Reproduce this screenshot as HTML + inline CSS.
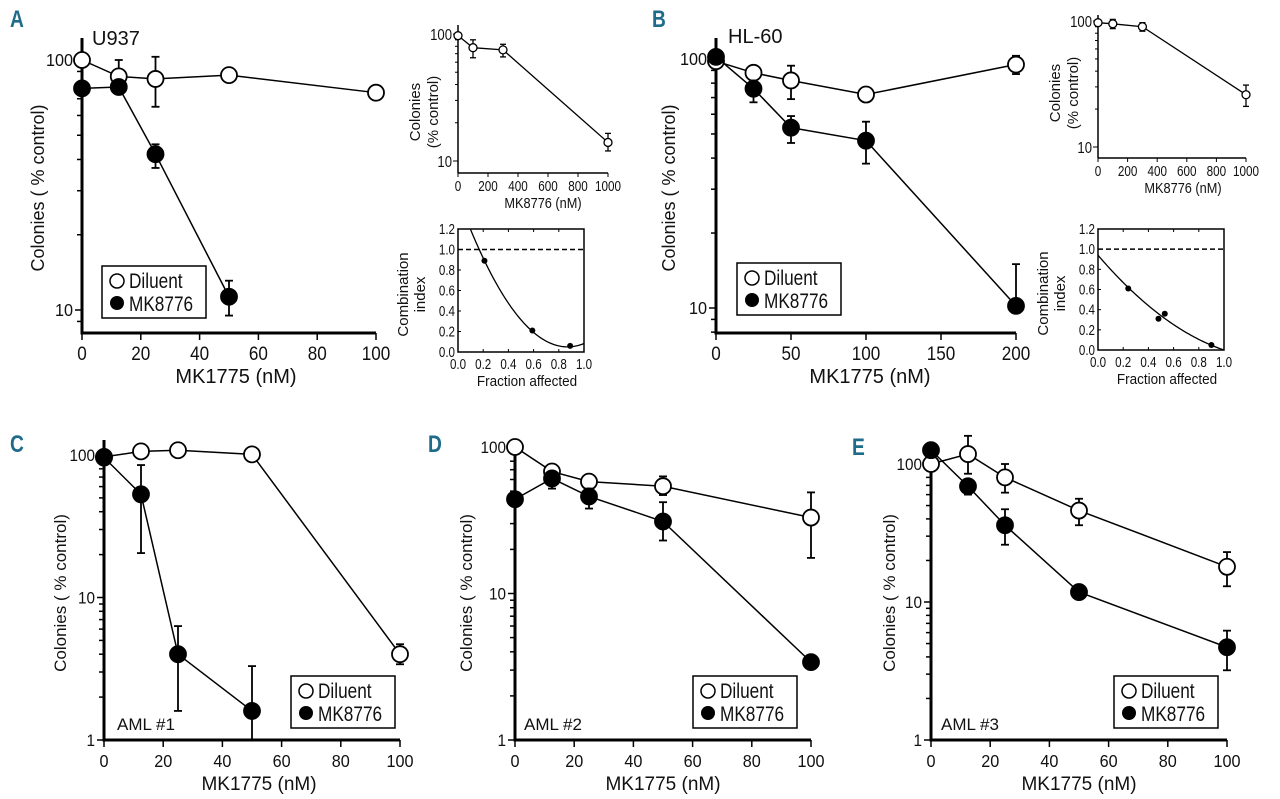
<!DOCTYPE html>
<html><head><meta charset="utf-8"><style>
html,body{margin:0;padding:0;background:#fff;width:1280px;height:799px;overflow:hidden}
svg{display:block}
text{font-family:"Liberation Sans Narrow","Liberation Sans",sans-serif;fill:#111}
.pl{font-family:"Liberation Sans",sans-serif;font-weight:bold;fill:#1f6b8a;font-size:24px}
</style></head><body>
<svg id="fig" width="1280" height="799" viewBox="0 0 1280 799" xmlns="http://www.w3.org/2000/svg">
<text class="pl" transform="translate(10,27) scale(0.8,1)">A</text>
<text class="pl" transform="translate(652,27) scale(0.8,1)">B</text>
<text class="pl" transform="translate(10,452) scale(0.8,1)">C</text>
<text class="pl" transform="translate(428,452) scale(0.8,1)">D</text>
<text class="pl" transform="translate(852,455) scale(0.8,1)">E</text>
</svg>
<script>
// ---- data ----
const aX=[0,12.5,25,50,100];
const aDil=[100,86,84,87,74];
const aDilHi=[null,100,103,null,null];
const aDilLo=[null,null,65,null,null];
const aMK=[77,78,42,11.3];
const aMKHi=[null,81,46,13.1];
const aMKLo=[null,74,37,9.5];
const bX=[0,25,50,100,200];
const bDil=[98,88,82,72,95];
const bDilHi=[null,93,94,null,103];
const bDilLo=[null,null,69,null,87];
const bMK=[102,76,53,47,10.2];
const bMKHi=[null,82,59,56,15];
const bMKLo=[null,67,46,38,null];
const cX=[0,12.5,25,50,100];
const cDil=[97,106,108,101,4.0];
const cDilHi=[null,null,null,null,4.7];
const cDilLo=[null,null,null,null,3.4];
const cMK=[96,53,4,1.6];
const cMKHi=[null,85,6.3,3.3];
const cMKLo=[null,20.5,1.6,1];
const dX=[0,12.5,25,50,100];
const dDil=[100,68,58,54,33];
const dDilHi=[null,null,null,63,49];
const dDilLo=[null,null,null,47,17.5];
const dMK=[44,61,46,31,3.4];
const dMKHi=[null,65,52,42,null];
const dMKLo=[null,52,38,23,null];
const eX=[0,12.5,25,50,100];
const eDil=[100,118,80,46,18];
const eDilHi=[null,160,100,56,23];
const eDilLo=[null,85,62,36,13];
const eMK=[126,69,36,11.8,4.7];
const eMKHi=[null,77,47,null,6.2];
const eMKLo=[null,60,26,null,3.2];
// insets
const aInX=[0,100,300,1000];
const aInY=[97,78,75,14];
const aInHi=[null,90,83,16.5];
const aInLo=[null,65,66,12];
const bInX=[0,100,300,1000];
const bInY=[97,95,90,26];
const bInHi=[null,103,97,31];
const bInLo=[null,87,83,21];
const aFa=[0.21,0.59,0.89];
const aCI=[0.89,0.21,0.06];
const bFa=[0.24,0.48,0.53,0.9];
const bCI=[0.61,0.31,0.36,0.05];
const aCurve=[1.93,0.87,0.05]; // a*(f-b)^2+c
const bCurve=[0.94,-1.458,0.518]; // c0+c1 f+c2 f^2

const NS="http://www.w3.org/2000/svg";
const svg=document.getElementById('fig');
function el(tag,attrs,parent,txt){
  const e=document.createElementNS(NS,tag);
  if(tag==='text'){
    const sx=attrs._sx||1;delete attrs._sx;
    if(attrs.transform){attrs.transform=attrs.transform+` scale(${sx},1)`;}
    else{attrs.transform=`translate(${attrs.x},${attrs.y}) scale(${sx},1)`;attrs.x=0;attrs.y=0;}
  }
  for(const k in attrs)e.setAttribute(k,attrs[k]);if(txt!==undefined)e.textContent=txt;(parent||svg).appendChild(e);return e;}
function grp(name){const g=el('g',{});return g;}

function mainPanel(id,cfg,xs,dil,dHi,dLo,mk,mHi,mLo){
  const g=grp('panel-'+id);
  const X=v=>cfg.x0+v*cfg.sx;
  const Y=v=>cfg.y100+(2-Math.log10(v))*cfg.dec;
  const xr=X(cfg.xMax);
  const ya=el('line',{x1:cfg.x0,y1:cfg.yTop,x2:cfg.x0,y2:cfg.yBot,stroke:'#000','stroke-width':3},g);
  
  const xa=el('line',{x1:cfg.x0-1.5,y1:cfg.yBot,x2:xr,y2:cfg.yBot,stroke:'#000','stroke-width':3},g);
  
  for(let d=0;d<=2;d++){for(let m=1;m<=9;m++){const v=Math.pow(10,d)*m;const y=Y(v);if(y<cfg.yTop-1||y>cfg.yBot+1)continue;
    el('line',{x1:cfg.x0-(m==1?7:5),y1:y,x2:cfg.x0,y2:y,stroke:'#000','stroke-width':1.5},g);
    if(m==1){const t=el('text',{x:cfg.x0-9,y:y+6,'text-anchor':'end','font-size':cfg.fs+1,_sx:0.9},g,String(v));}}}
  cfg.xTicks.forEach(v=>{const x=X(v);el('line',{x1:x,y1:cfg.yBot,x2:x,y2:cfg.yBot+7,stroke:'#000','stroke-width':1.5},g);
    const t=el('text',{x:x,y:cfg.yBot+27,'text-anchor':'middle','font-size':cfg.fs+2,_sx:0.9},g,String(v));});
  const xl=el('text',{x:cfg.xlx,y:cfg.yBot+50,'text-anchor':'middle','font-size':cfg.fs+3},g,'MK1775 (nM)');
  
  const yl=el('text',{x:0,y:0,'text-anchor':'middle','font-size':cfg.fs+1,transform:`translate(${cfg.ylx},${cfg.yly}) rotate(-90)`},g,'Colonies ( % control)');
  
  const lab=el('text',{x:cfg.labx,y:cfg.laby,'font-size':cfg.labfs},g,cfg.lab);
  
  function series(vals,hi,lo,fill,name){
    const sg=el('g',{},g);
    const pts=vals.map((v,i)=>X(xs[i])+','+Y(v)).join(' ');
    el('polyline',{points:pts,fill:'none',stroke:'#000','stroke-width':1.5},sg);
    vals.forEach((v,i)=>{const x=X(xs[i]);
      if(hi[i]!=null){el('line',{x1:x,y1:Y(hi[i]),x2:x,y2:Y(v),stroke:'#000','stroke-width':1.8},sg);el('line',{x1:x-4,y1:Y(hi[i]),x2:x+4,y2:Y(hi[i]),stroke:'#000','stroke-width':1.8},sg);}
      if(lo[i]!=null){el('line',{x1:x,y1:Y(lo[i]),x2:x,y2:Y(v),stroke:'#000','stroke-width':1.8},sg);el('line',{x1:x-4,y1:Y(lo[i]),x2:x+4,y2:Y(lo[i]),stroke:'#000','stroke-width':1.8},sg);}
    });
    vals.forEach((v,i)=>{const c=el('circle',{cx:X(xs[i]),cy:Y(v),r:8,fill:fill,stroke:'#000','stroke-width':1.8},sg);
      });
  }
  series(dil,dHi,dLo,'#fff','diluent-series');
  series(mk,mHi,mLo,'#000','mk8776-series');
  const L=cfg.leg;
  const lg=el('g',{},g);
  el('rect',{x:L[0],y:L[1],width:104,height:52,fill:'#fff',stroke:'#000','stroke-width':1.5},lg);
  el('circle',{cx:L[0]+15,cy:L[1]+15,r:7,fill:'#fff',stroke:'#000','stroke-width':1.5},lg);
  el('circle',{cx:L[0]+15,cy:L[1]+37,r:7,fill:'#000'},lg);
  const t1=el('text',{x:L[0]+27,y:L[1]+22,'font-size':21,_sx:0.82},lg,'Diluent');
  const t2=el('text',{x:L[0]+27,y:L[1]+45,'font-size':21,_sx:0.82},lg,'MK8776');
}

mainPanel('a',{x0:82,sx:2.94,xMax:100,y100:60,dec:250,yTop:38,yBot:333,xTicks:[0,20,40,60,80,100],fs:17,xlx:236,ylx:44,yly:188,lab:'U937',labx:92,laby:45,labfs:20,leg:[102,266]},aX,aDil,aDilHi,aDilLo,aMK,aMKHi,aMKLo);
mainPanel('b',{x0:716,sx:1.5,xMax:200,y100:59,dec:249,yTop:38,yBot:333,xTicks:[0,50,100,150,200],fs:17,xlx:870,ylx:675,yly:188,lab:'HL-60',labx:728,laby:43,labfs:20,leg:[737,263]},bX,bDil,bDilHi,bDilLo,bMK,bMKHi,bMKLo);
mainPanel('c',{x0:104,sx:2.96,xMax:100,y100:455,dec:142.5,yTop:440,yBot:740,xTicks:[0,20,40,60,80,100],fs:16,xlx:259,ylx:66,yly:593,lab:'AML #1',labx:117,laby:730,labfs:17,leg:[291,676]},cX,cDil,cDilHi,cDilLo,cMK,cMKHi,cMKLo);
mainPanel('d',{x0:515,sx:2.96,xMax:100,y100:447,dec:146.5,yTop:440,yBot:740,xTicks:[0,20,40,60,80,100],fs:16,xlx:663,ylx:472,yly:593,lab:'AML #2',labx:524,laby:730,labfs:17,leg:[693,676]},dX,dDil,dDilHi,dDilLo,dMK,dMKHi,dMKLo);
mainPanel('e',{x0:931,sx:2.96,xMax:100,y100:464,dec:138,yTop:448,yBot:740,xTicks:[0,20,40,60,80,100],fs:16,xlx:1079,ylx:895,yly:593,lab:'AML #3',labx:941,laby:730,labfs:17,leg:[1114,676]},eX,eDil,eDilHi,eDilLo,eMK,eMKHi,eMKLo);

function doseInset(id,c,xs,ys,hi,lo){
  const g=grp('dose-inset-'+id);
  const X=v=>c.x0+v*c.sx;const Y=v=>c.y100+(2-Math.log10(v))*c.dec;
  el('line',{x1:c.x0,y1:c.yTop,x2:c.x0,y2:c.yBot,stroke:'#000','stroke-width':1.5},g);
  el('line',{x1:c.x0,y1:c.yBot,x2:X(1000),y2:c.yBot,stroke:'#000','stroke-width':1.5},g);
  for(let d=0;d<=1;d++)for(let m=1;m<=9;m++){const v=Math.pow(10,d+1)*m;const y=Y(v);if(y<c.yTop||y>c.yBot)continue;
    el('line',{x1:c.x0-(m==1?5:3),y1:y,x2:c.x0,y2:y,stroke:'#000','stroke-width':1},g);
    if(m==1){const t=el('text',{x:c.x0-6,y:y+6,'text-anchor':'end','font-size':16,_sx:0.82},g,String(v));}}
  [0,200,400,600,800,1000].forEach(v=>{const x=X(v);el('line',{x1:x,y1:c.yBot,x2:x,y2:c.yBot+4,stroke:'#000','stroke-width':1},g);
    const t=el('text',{x:x,y:c.yBot+18,'text-anchor':'middle','font-size':15,_sx:0.78},g,String(v));});
  const xl=el('text',{x:c.x0+85,y:c.yBot+35,'text-anchor':'middle','font-size':15,fill:'#333',_sx:0.85},g,'MK8776 (nM)');
  const yl=el('text',{x:0,y:0,'text-anchor':'middle','font-size':15,transform:`translate(${c.x0-38},${c.yly}) rotate(-90)`},g);
  
  el('tspan',{x:0,dy:0},yl,'Colonies');el('tspan',{x:0,dy:18},yl,'(% control)');
  el('polyline',{points:ys.map((v,i)=>X(xs[i])+','+Y(v)).join(' '),fill:'none',stroke:'#000','stroke-width':1.3},g);
  ys.forEach((v,i)=>{const x=X(xs[i]);if(hi[i]!=null){el('line',{x1:x,y1:Y(hi[i]),x2:x,y2:Y(lo[i]),stroke:'#000','stroke-width':1.3},g);
    el('line',{x1:x-3,y1:Y(hi[i]),x2:x+3,y2:Y(hi[i]),stroke:'#000','stroke-width':1.3},g);el('line',{x1:x-3,y1:Y(lo[i]),x2:x+3,y2:Y(lo[i]),stroke:'#000','stroke-width':1.3},g);}
    const p=el('circle',{cx:x,cy:Y(v),r:4,fill:'#fff',stroke:'#000','stroke-width':1.3},g);});
}
doseInset('a',{x0:458,sx:0.15,y100:34,dec:127,yTop:25,yBot:173,yly:112},aInX,aInY,aInHi,aInLo);
doseInset('b',{x0:1098,sx:0.148,y100:21,dec:126,yTop:15,yBot:158,yly:93},bInX,bInY,bInHi,bInLo);

function ciInset(id,c,fa,ci,curveFn){
  const g=grp('ci-inset-'+id);
  const X=v=>c.x0+v*(c.x1-c.x0);const Y=v=>c.y0-v/1.2*(c.y0-c.yT);
  el('rect',{x:c.x0,y:c.yT,width:c.x1-c.x0,height:c.y0-c.yT,fill:'none',stroke:'#000','stroke-width':1.5},g);
  [0,0.2,0.4,0.6,0.8,1.0,1.2].forEach(v=>{const y=Y(v);el('line',{x1:c.x0,y1:y,x2:c.x0+3,y2:y,stroke:'#000'},g);
    const t=el('text',{x:c.x0-3,y:y+5,'text-anchor':'end','font-size':14.5,_sx:0.8},g,v.toFixed(1));});
  [0,0.2,0.4,0.6,0.8,1.0].forEach(v=>{const x=X(v);el('line',{x1:x,y1:c.y0,x2:x,y2:c.y0-3,stroke:'#000'},g);el('line',{x1:x,y1:c.yT,x2:x,y2:c.yT+3,stroke:'#000'},g);
    const t=el('text',{x:x,y:c.y0+17,'text-anchor':'middle','font-size':14.5,_sx:0.8},g,v.toFixed(1));});
  const dl=el('line',{x1:c.x0,y1:Y(1),x2:c.x1,y2:Y(1),stroke:'#000','stroke-width':1.5,'stroke-dasharray':'5,3'},g);
  
  let pts=[];for(let f=0;f<=1.0001;f+=0.01){const v=curveFn(f);if(v>1.2||v<-0.02)continue;pts.push(X(f)+','+Y(v));}
  const cv=el('polyline',{points:pts.join(' '),fill:'none',stroke:'#000','stroke-width':1.3},g);
  fa.forEach((f,i)=>{const p=el('circle',{cx:X(f),cy:Y(ci[i]),r:3,fill:'#000'},g);});
  const xl=el('text',{x:(c.x0+c.x1)/2+6,y:c.y0+34,'text-anchor':'middle','font-size':15,_sx:0.9},g,'Fraction affected');
  const yl=el('text',{x:0,y:0,'text-anchor':'middle','font-size':15,transform:`translate(${c.x0-50},${(c.y0+c.yT)/2+4}) rotate(-90)`},g);
  
  el('tspan',{x:0,dy:0},yl,'Combination');el('tspan',{x:0,dy:17},yl,'index');
}
ciInset('a',{x0:458,x1:584,yT:229,y0:352},aFa,aCI,f=>aCurve[0]*Math.pow(f-aCurve[1],2)+aCurve[2]);
ciInset('b',{x0:1098,x1:1224,yT:229,y0:350},bFa,bCI,f=>bCurve[0]+bCurve[1]*f+bCurve[2]*f*f);
</script>
</body></html>
